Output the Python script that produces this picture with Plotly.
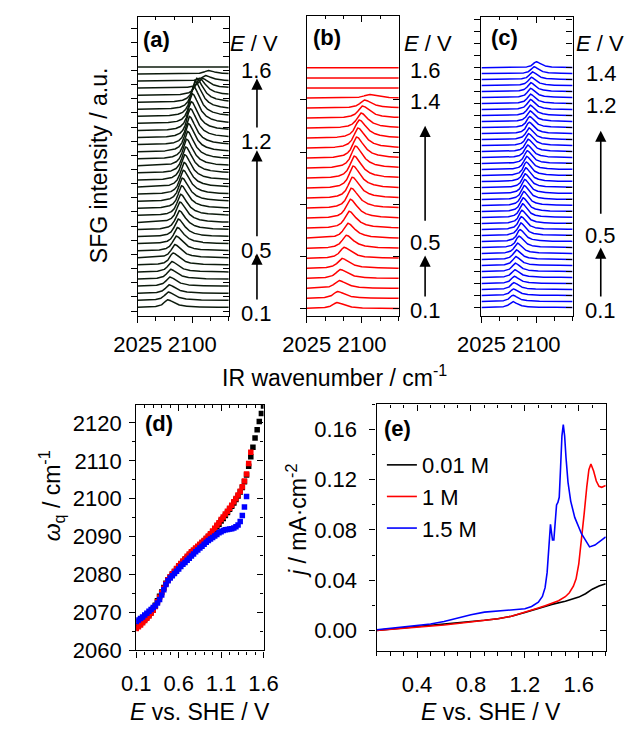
import numpy as np
import plotly.graph_objects as go

W, H = 643, 740
FONT = "Liberation Sans, Arial, sans-serif"

# ---------------- DATA ----------------
# (a) 0.01 M: potentials (V), peak position (cm-1), peak height (in units of trace spacing)
E_a = [0.10, 0.14, 0.19, 0.23, 0.28, 0.32, 0.36, 0.41, 0.45, 0.50, 0.54, 0.59, 0.63, 0.67, 0.72, 0.76, 0.81, 0.85,
       0.89, 0.94, 0.98, 1.03, 1.07, 1.12, 1.16, 1.20, 1.25, 1.29, 1.34, 1.38, 1.43, 1.47, 1.51, 1.56, 1.60]
peak_a = [2066.0, 2066.8, 2068.0, 2068.9, 2070.1, 2071.6, 2073.5, 2075.8, 2077.7, 2079.4, 2080.5, 2081.8, 2082.9,
          2083.9, 2085.2, 2086.1, 2087.4, 2088.4, 2089.4, 2090.7, 2091.8, 2093.2, 2094.4, 2095.8, 2097.1, 2098.4,
          2100.0, 2101.6, 2103.6, 2105.8, 2109.5, 2113.5, 2117.2, 2121.3, 2124.5]
amp_a = [1.1, 1.2, 1.2, 1.3, 1.4, 1.5, 1.7, 1.9, 2.1, 2.3, 2.5, 2.7, 2.9, 3.0, 3.2, 3.3, 3.4, 3.5, 3.6, 3.7, 3.8,
         3.9, 4.0, 4.0, 4.1, 4.1, 4.2, 4.2, 4.0, 3.4, 2.4, 1.4, 0.8, 0.5, 0.0]

# (b) 1 M
E_b = [0.10, 0.16, 0.23, 0.29, 0.35, 0.41, 0.48, 0.54, 0.60, 0.66, 0.73, 0.79, 0.85, 0.91, 0.98, 1.04, 1.10, 1.16,
       1.23, 1.29, 1.35, 1.41, 1.48, 1.54, 1.60]
peak_b = [2065.8, 2066.8, 2068.6, 2070.3, 2072.8, 2075.7, 2078.7, 2080.7, 2082.3, 2083.9, 2085.5, 2086.8, 2088.0,
          2089.3, 2091.0, 2092.7, 2094.5, 2096.3, 2098.5, 2100.6, 2103.2, 2109.0, 2110.0, 2110.0, 2110.0]
amp_b = [0.6, 0.7, 0.8, 0.9, 1.0, 1.1, 1.3, 1.5, 1.7, 1.9, 2.0, 2.1, 2.2, 2.2, 2.2, 2.1, 2.0, 1.8, 1.5, 1.2, 0.8,
         0.35, 0.0, 0.0, 0.0]

# (c) 1.5 M
E_c = [0.10, 0.13, 0.17, 0.20, 0.23, 0.26, 0.30, 0.33, 0.36, 0.39, 0.43, 0.46, 0.49, 0.52, 0.56, 0.59, 0.62, 0.65,
       0.69, 0.72, 0.75, 0.78, 0.82, 0.85, 0.88, 0.91, 0.95, 0.98, 1.01, 1.04, 1.08, 1.11, 1.14, 1.17, 1.21, 1.24,
       1.27, 1.30, 1.34, 1.37, 1.40]
peak_c = [2067.6, 2068.1, 2068.7, 2069.3, 2069.9, 2070.5, 2071.3, 2071.9, 2072.7, 2074.1, 2076.3, 2077.8, 2078.8,
          2079.6, 2080.4, 2081.2, 2082.0, 2082.7, 2083.6, 2084.2, 2084.9, 2085.5, 2086.4, 2087.0, 2087.6, 2088.2,
          2089.0, 2089.6, 2090.0, 2090.4, 2091.0, 2091.4, 2091.7, 2091.9, 2092.0, 2092.2, 2092.5, 2093.1, 2094.8,
          2097.0, 2100.0]
amp_c = [1.0, 1.05, 1.1, 1.15, 1.2, 1.3, 1.4, 1.5, 1.6, 1.75, 1.9, 2.0, 2.1, 2.15, 2.2, 2.3, 2.3, 2.35, 2.35, 2.35,
         2.3, 2.3, 2.25, 2.2, 2.15, 2.1, 2.05, 2.0, 1.95, 1.9, 1.85, 1.8, 1.75, 1.7, 1.6, 1.55, 1.5, 1.4, 1.3,
         1.15, 1.0]

# (d) peak frequency vs potential
E_d = [0.100, 0.125, 0.150, 0.175, 0.200, 0.225, 0.250, 0.275, 0.300, 0.325, 0.350, 0.375, 0.400, 0.425, 0.450,
       0.475, 0.500, 0.525, 0.550, 0.575, 0.600, 0.625, 0.650, 0.675, 0.700, 0.725, 0.750, 0.775, 0.800, 0.825,
       0.850, 0.875, 0.900, 0.925, 0.950, 0.975, 1.000, 1.025, 1.050, 1.075, 1.100, 1.125, 1.150, 1.175, 1.200,
       1.225, 1.250, 1.275, 1.300, 1.325, 1.350, 1.375, 1.400, 1.425, 1.450, 1.475, 1.500, 1.525, 1.550, 1.575,
       1.600]
w_001M = [2066.0, 2066.5, 2067.0, 2067.6, 2068.2, 2068.8, 2069.4, 2070.1, 2070.9, 2071.9, 2073.1, 2074.3, 2075.4,
          2076.6, 2077.7, 2078.6, 2079.3, 2080.0, 2080.7, 2081.4, 2082.1, 2082.7, 2083.3, 2083.9, 2084.5, 2085.1,
          2085.7, 2086.2, 2086.8, 2087.3, 2087.8, 2088.3, 2088.8, 2089.4, 2090.0, 2090.6, 2091.2, 2091.9, 2092.6,
          2093.3, 2094.1, 2094.8, 2095.6, 2096.4, 2097.2, 2098.0, 2098.9, 2099.8, 2100.7, 2101.8, 2103.0, 2104.5,
          2106.3, 2108.6, 2111.1, 2113.6, 2116.0, 2118.2, 2120.4, 2122.5, 2124.5]
w_1M = [2065.8, 2066.2, 2066.7, 2067.3, 2067.9, 2068.5, 2069.1, 2069.8, 2070.6, 2071.6, 2072.8, 2074.0, 2075.2,
        2076.4, 2077.6, 2078.6, 2079.4, 2080.2, 2080.9, 2081.6, 2082.3, 2082.9, 2083.6, 2084.2, 2084.8, 2085.4,
        2086.0, 2086.5, 2087.0, 2087.5, 2088.0, 2088.5, 2089.0, 2089.6, 2090.2, 2090.8, 2091.5, 2092.2, 2093.0,
        2093.7, 2094.5, 2095.2, 2096.0, 2096.7, 2097.5, 2098.3, 2099.2, 2100.1, 2101.0, 2102.0, 2103.2, 2104.7,
        2106.5, 2109.3, 2112.3]
w_15M = [2067.6, 2068.0, 2068.4, 2068.8, 2069.3, 2069.8, 2070.3, 2070.8, 2071.3, 2071.8, 2072.5, 2073.4, 2074.6,
         2076.0, 2077.4, 2078.4, 2079.1, 2079.7, 2080.3, 2080.9, 2081.5, 2082.1, 2082.7, 2083.2, 2083.8, 2084.3,
         2084.9, 2085.4, 2086.0, 2086.5, 2087.0, 2087.5, 2088.0, 2088.5, 2089.0, 2089.4, 2089.8, 2090.2, 2090.6,
         2091.0, 2091.3, 2091.6, 2091.8, 2091.9, 2092.0, 2092.1, 2092.3, 2092.6, 2093.1, 2094.0, 2095.6, 2097.8,
         2100.6]

# (e) current density
E_e_001M = [0.10, 0.20, 0.30, 0.40, 0.50, 0.60, 0.70, 0.80, 0.90, 1.00, 1.10, 1.20, 1.30, 1.40, 1.50, 1.55, 1.60,
            1.65, 1.70, 1.75, 1.80]
j_001M = [0.0000, 0.0010, 0.0018, 0.0026, 0.0035, 0.0045, 0.0056, 0.0068, 0.0080, 0.0093, 0.0112, 0.0142, 0.0176,
          0.0207, 0.0232, 0.0248, 0.0265, 0.0292, 0.0328, 0.0353, 0.0372]
E_e_1M = [0.10, 0.20, 0.30, 0.40, 0.50, 0.60, 0.70, 0.80, 0.90, 1.00, 1.10, 1.20, 1.30, 1.35, 1.40, 1.45, 1.50, 1.53,
          1.56, 1.58, 1.60, 1.62, 1.64, 1.66, 1.675, 1.69, 1.71, 1.73, 1.75, 1.77, 1.79, 1.80]
j_1M = [0.0000, 0.0008, 0.0016, 0.0024, 0.0033, 0.0043, 0.0054, 0.0066, 0.0078, 0.0092, 0.0112, 0.0142, 0.0178,
        0.0196, 0.0214, 0.0236, 0.0268, 0.0300, 0.0352, 0.0410, 0.0530, 0.0710, 0.0930, 0.1150, 0.1280, 0.1325,
        0.1270, 0.1190, 0.1148, 0.1140, 0.1150, 0.1155]
E_e_15M = [0.10, 0.20, 0.30, 0.40, 0.50, 0.60, 0.70, 0.80, 0.90, 1.00, 1.10, 1.20, 1.25, 1.30, 1.33, 1.35, 1.365,
           1.375, 1.385, 1.39, 1.395, 1.405, 1.415, 1.425, 1.435, 1.445, 1.455, 1.465, 1.475, 1.485, 1.495, 1.505,
           1.52, 1.54, 1.57, 1.62, 1.68, 1.72, 1.76, 1.80]
j_15M = [0.0005, 0.0015, 0.0025, 0.0035, 0.0050, 0.0070, 0.0098, 0.0125, 0.0145, 0.0155, 0.0160, 0.0172, 0.0190,
         0.0225, 0.0270, 0.0340, 0.0460, 0.0640, 0.0820, 0.0845, 0.0800, 0.0720, 0.0720, 0.0880, 0.1000, 0.1020,
         0.1060, 0.1300, 0.1550, 0.1640, 0.1550, 0.1380, 0.1180, 0.1030, 0.0900, 0.0770, 0.0665, 0.0680, 0.0710,
         0.0745]

series_labels = ["0.01 M", "1 M", "1.5 M"]

# ---------------- STYLE ----------------
C_BLACK = "#0c1a0c"
C_RED = "#ff0000"
C_BLUE = "#0000ff"

wn = np.linspace(2025, 2150, 500)


def spectrum(center, height, gl, gr):
    g = np.where(wn < center, gl, gr)
    return height / (1.0 + ((wn - center) / g) ** 2)


fig = go.Figure()

# stacked spectra
for k, (Es, pk, am, col, gl, gr) in enumerate([
        (E_a, peak_a, amp_a, C_BLACK, 6.0, 11.0),
        (E_b, peak_b, amp_b, C_RED, 7.0, 12.0),
        (E_c, peak_c, amp_c, C_BLUE, 5.0, 8.0)]):
    ax = "" if k == 0 else str(k + 1)
    for i in range(len(Es)):
        fig.add_trace(go.Scatter(x=wn, y=i + spectrum(pk[i], am[i], gl, gr), mode="lines",
                                 line=dict(color=col, width=1.5), showlegend=False, hoverinfo="skip",
                                 xaxis="x" + ax, yaxis="y" + ax))

# (d)
for w, col in [(w_001M, "black"), (w_1M, C_RED), (w_15M, C_BLUE)]:
    fig.add_trace(go.Scatter(x=E_d[:len(w)], y=w, mode="markers",
                             marker=dict(symbol="square", size=5.5, color=col, line=dict(width=0)),
                             showlegend=False, xaxis="x4", yaxis="y4"))

# (e)
for Es, js, col, lab in [(E_e_001M, j_001M, "black", series_labels[0]), (E_e_1M, j_1M, C_RED, series_labels[1]),
                         (E_e_15M, j_15M, C_BLUE, series_labels[2])]:
    fig.add_trace(go.Scatter(x=Es, y=js, mode="lines", line=dict(color=col, width=1.6), name=lab,
                             xaxis="x5", yaxis="y5"))

# ---------------- AXES ----------------
def dx(a, b):
    return [a / W, b / W]


def dy(t, b):
    return [1 - b / H, 1 - t / H]


TF = dict(size=22, family=FONT, color="black")
panels = [
    dict(xd=(121, 218), yd=(17, 322), xr=[2025, 2150], xt=dict(tick0=2025, dtick=75), xm=25,
         yr=[-1.25, 41.1], yt=dict(tick0=-0.5, dtick=2), ym=None, ylab=False, xso=2, yso=2),
    dict(xd=(301, 399), yd=(16, 322), xr=[2025, 2150], xt=dict(tick0=2025, dtick=75), xm=25,
         yr=[-0.78, 29.2], yt=dict(tickmode="array", tickvals=[0, 5.2, 10.4, 15.6, 20.8]), ym=None, ylab=False,
         xso=2, yso=2),
    dict(xd=(487, 584), yd=(17, 322), xr=[2025, 2150], xt=dict(tick0=2025, dtick=75), xm=25,
         yr=[-1.48, 48.5], yt=dict(tick0=0, dtick=2), ym=None, ylab=False, xso=2, yso=2),
    dict(xd=(119.5, 255), yd=(412, 662), xr=[0.1, 1.6], xt=dict(tick0=0.1, dtick=0.5), xm=0.1,
         yr=[2060, 2124.8], yt=dict(tick0=2060, dtick=10), ym=5, ylab=True, xso=7, yso=3),
    dict(xd=(375.4, 619.3), yd=(411.7, 662.7), xr=[0.1, 1.8], xt=dict(tick0=0, dtick=0.4), xm=0.1,
         yr=[-0.0165, 0.18], yt=dict(tick0=0, dtick=0.04, tickformat=".2f"), ym=0.02, ylab=True, xso=7, yso=8),
]


def base_axis(side_ticks):
    return dict(showline=True, linecolor="black", linewidth=1.3, ticks=side_ticks, tickcolor="black",
                tickwidth=1.3, ticklen=6, showgrid=False, zeroline=False, tickfont=TF, tickangle=0)


layout = {}
for n, p in enumerate(panels, start=1):
    sfx = "" if n == 1 else str(n)
    tsfx = str(n + 5)
    for inside, xname, yname in [(False, "xaxis" + sfx, "yaxis" + sfx), (True, "xaxis" + tsfx, "yaxis" + tsfx)]:
        tk = "inside" if inside else "outside"
        xa = base_axis(tk)
        xa.update(domain=dx(*p["xd"]), range=p["xr"], **p["xt"])
        xa["minor"] = dict(dtick=p["xm"], tick0=p["xt"].get("tick0", 0), ticks=tk, ticklen=3.5,
                           tickcolor="black", tickwidth=1.3, showgrid=False)
        ya = base_axis(tk)
        ya.update(domain=dy(*p["yd"]), range=p["yr"], **p["yt"])
        if p["ym"]:
            ya["minor"] = dict(dtick=p["ym"], ticks=tk, ticklen=3.5, tickcolor="black", tickwidth=1.3,
                               showgrid=False)
        if not inside:
            xa.update(anchor="y" + sfx, side="bottom", ticklabelstandoff=p["xso"])
            ya.update(anchor="x" + sfx, side="left", showticklabels=p["ylab"], ticklabelstandoff=p["yso"])
        else:
            xa.update(anchor="y" + sfx, side="top", overlaying="x" + sfx, showticklabels=False)
            ya.update(anchor="x" + sfx, side="right", overlaying="y" + sfx, showticklabels=False)
        layout[xname] = xa
        layout[yname] = ya
    # dummy traces to activate overlay axes
    fig.add_trace(go.Scatter(x=[None], y=[None], xaxis="x" + tsfx, yaxis="y" + sfx, showlegend=False,
                             hoverinfo="skip"))
    fig.add_trace(go.Scatter(x=[None], y=[None], xaxis="x" + sfx, yaxis="y" + tsfx, showlegend=False,
                             hoverinfo="skip"))

fig.update_layout(**layout)

# ---------------- ANNOTATIONS ----------------
ann = []


def txt(x, y, s, size=22, xanchor="center", yanchor="middle", angle=0):
    ann.append(dict(x=x / W, y=1 - y / H, xref="paper", yref="paper", text=s, showarrow=False,
                    font=dict(size=size, family=FONT, color="black"), xanchor=xanchor, yanchor=yanchor,
                    textangle=angle))


def label_arrow(x, ylab, s, ytip, gap):
    # potential label with an upward arrow starting just above it
    ann.append(dict(x=x / W, y=1 - ytip / H, xref="paper", yref="paper", ax=0, ay=ylab - ytip, text=s,
                    showarrow=True, arrowhead=2, arrowsize=1.4, arrowwidth=1.6, arrowcolor="black",
                    standoff=0, startstandoff=gap, font=dict(size=22, family=FONT, color="black")))


# panel letters
txt(125, 40, "<b>(a)</b>", xanchor="left")
txt(306, 38, "<b>(b)</b>", xanchor="left")
txt(495, 38, "<b>(c)</b>", xanchor="left")
txt(127, 431, "<b>(d)</b>", xanchor="left")
txt(381, 436, "<b>(e)</b>", xanchor="left")

# potential labels and arrows
txt(245, 44, "<i>E</i> / V")
txt(248, 72, "1.6")
label_arrow(248, 143, "1.2", 80, 0)
label_arrow(248, 253, "0.5", 153, 0)
label_arrow(248, 318, "0.1", 258, 0)

txt(430, 44, "<i>E</i> / V")
txt(427, 72, "1.6")
txt(427, 103, "1.4")
label_arrow(427, 245, "0.5", 128, 8)
label_arrow(427, 315, "0.1", 260, 0)

txt(613, 44, "<i>E</i> / V")
txt(615, 75, "1.4")
txt(615, 107, "1.2")
label_arrow(614, 238, "0.5", 133, 8)
label_arrow(614, 315, "0.1", 252, 0)

# axis titles
txt(80, 168, "SFG intensity / a.u.", size=23, angle=-90)
txt(331, 383, "IR wavenumber / cm<sup>-1</sup>", size=23)
txt(29, 505, "<i>ω</i><sub>q</sub> / cm<sup>-1</sup>", size=23, angle=-90)
txt(187, 725, "<i>E</i> vs. SHE / V", size=23)
txt(290, 530, "<i>j</i> / mA·cm<sup>-2</sup>", size=23, angle=-90)
txt(497, 725, "<i>E</i> vs. SHE / V", size=23)

fig.update_layout(
    width=W, height=H, margin=dict(l=0, r=0, t=0, b=0), paper_bgcolor="white", plot_bgcolor="white",
    annotations=ann,
    legend=dict(x=381 / W, y=1 - 452 / H, xanchor="left", yanchor="top", bgcolor="rgba(0,0,0,0)",
                font=dict(size=22, family=FONT, color="black"), tracegroupgap=0, itemwidth=30),
    font=dict(family=FONT, color="black"),
)

fig.write_html("out.html")
